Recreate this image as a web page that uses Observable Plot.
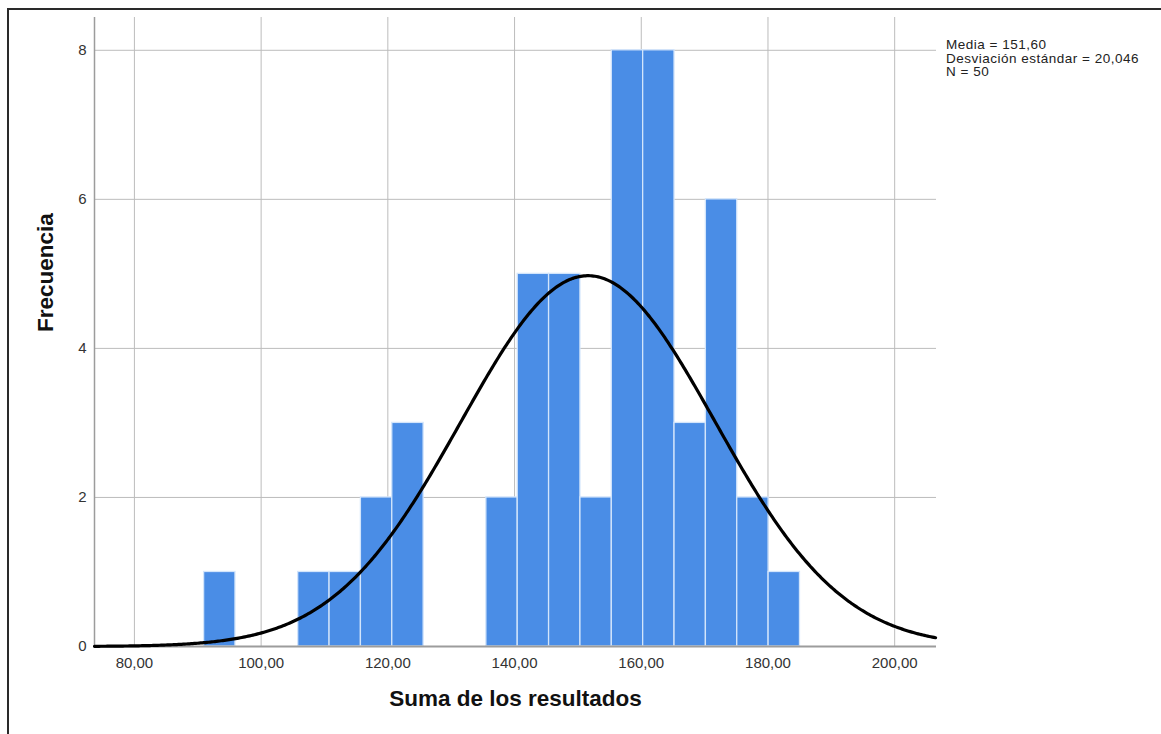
<!DOCTYPE html>
<html>
<head>
<meta charset="utf-8">
<script src="https://cdn.jsdelivr.net/npm/d3@7"></script>
<script src="https://cdn.jsdelivr.net/npm/@observablehq/plot@0.6"></script>
<style>
  html, body { margin: 0; padding: 0; background: #fff; }
  #wrap { position: relative; width: 1161px; height: 734px; overflow: hidden; }
  #frame { position: absolute; left: 7px; top: 8px; width: 1160px; height: 740px;
           border-left: 2px solid #2a2a2a; border-top: 2px solid #2a2a2a; box-sizing: border-box; }
  #stats { position: absolute; left: 946px; top: 38px; font-family: "Liberation Sans", Arial, sans-serif;
           font-size: 13.5px; line-height: 13.5px; letter-spacing: 0.5px; color: #222; white-space: nowrap; }
  svg { position: absolute; left: 0; top: 0; }
</style>
</head>
<body>
<div id="wrap">
  <div id="frame"></div>
  <div id="stats">Media = 151,60<br>Desviación estándar = 20,046<br>N = 50</div>
</div>
<script>
// Histogram bins (lower and upper edges) and counts
const binLower = [91.0, 95.95, 100.9, 105.85, 110.8, 115.75, 120.7, 125.65, 130.6, 135.55, 140.5, 145.45, 150.4, 155.35, 160.3, 165.25, 170.2, 175.15, 180.1];
const binUpper = [95.95, 100.9, 105.85, 110.8, 115.75, 120.7, 125.65, 130.6, 135.55, 140.5, 145.45, 150.4, 155.35, 160.3, 165.25, 170.2, 175.15, 180.1, 185.05];
const counts   = [1, 0, 0, 1, 1, 2, 3, 0, 0, 2, 5, 5, 2, 8, 8, 3, 6, 2, 1];

// Summary statistics shown in the legend
const mean = 151.60;
const sd = 20.046;
const n = 50;
const curveBinWidth = 5;

// Axis ticks
const xTicks = [80, 100, 120, 140, 160, 180, 200];
const yTicks = [0, 2, 4, 6, 8];
const xDomain = [73.7, 206.6];
const yDomain = [0, 8.44];

const bins = binLower.map((lo, i) => ({x1: lo, x2: binUpper[i], y: counts[i]})).filter(d => d.y > 0);

// Fitted normal curve (from the stated mean, sd and N)
const curve = d3.range(xDomain[0], xDomain[1] + 0.001, 0.25).map(x => ({
  x,
  y: n * curveBinWidth * Math.exp(-0.5 * ((x - mean) / sd) ** 2) / (sd * Math.sqrt(2 * Math.PI))
}));

const fmt = d => d.toFixed(2).replace(".", ",");

const chart = Plot.plot({
  width: 1161,
  height: 734,
  marginLeft: 94,
  marginRight: 225,
  marginTop: 17,
  marginBottom: 88,
  style: {fontFamily: "'Liberation Sans', Arial, sans-serif", fontSize: "15px", background: "transparent", color: "#333"},
  x: {domain: xDomain, label: null},
  y: {domain: yDomain, label: null},
  marks: [
    Plot.gridX(xTicks, {stroke: "#bcbcbc", strokeOpacity: 1, strokeWidth: 1}),
    Plot.gridY(yTicks, {stroke: "#bcbcbc", strokeOpacity: 1, strokeWidth: 1}),
    Plot.rectY(bins, {x1: "x1", x2: "x2", y: "y", fill: "#4a8de6", stroke: "#d3e5fb", strokeWidth: 1.3}),
    Plot.ruleY([0], {stroke: "#9c9c9c", strokeWidth: 2}),
    Plot.ruleX([xDomain[0]], {stroke: "#9c9c9c", strokeWidth: 1.5}),
    Plot.line(curve, {x: "x", y: "y", stroke: "#000", strokeWidth: 3.2}),
    Plot.axisX(xTicks, {tickSize: 0, tickPadding: 11, tickFormat: fmt, label: null, fill: "#333"}),
    Plot.axisY(yTicks, {tickSize: 0, tickPadding: 8, tickFormat: d => String(d), label: null, fill: "#333"}),
    Plot.text(["Suma de los resultados"], {frameAnchor: "bottom", dy: 59, fontSize: 22.5, fontWeight: "bold", fill: "#111"}),
    Plot.text(["Frecuencia"], {frameAnchor: "left", dx: -49, rotate: -90, fontSize: 22.5, fontWeight: "bold", fill: "#111"})
  ]
});

document.getElementById("wrap").appendChild(chart);
</script>
</body>
</html>
